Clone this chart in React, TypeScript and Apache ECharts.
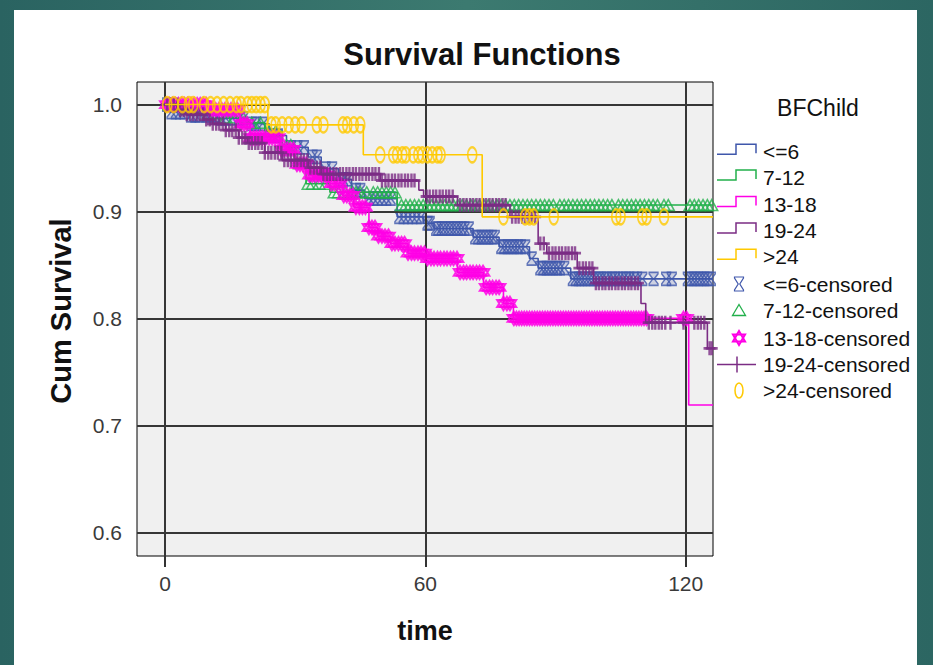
import React, { useEffect, useRef } from "react";
import * as echarts from "echarts";

// ---------- data ----------
const groupNames = ["<=6", "7-12", "13-18", "19-24", ">24"];
const groupColors = ["#3f57ab", "#22b04b", "#ff00e6", "#7b2c84", "#ffc900"];

const xTicks = [0, 60, 120];
const yTicks = [0.6, 0.7, 0.8, 0.9, 1.0];
const X_MIN = -6.46;
const X_MAX = 126.3;
const Y_MIN = 0.5778;
const Y_MAX = 1.0211;
const END_T = 126.3;

// <=6
const blueTimes = [0, 1, 5, 12, 19, 24, 28, 33, 36, 40, 43, 46, 53.5, 59.5, 62, 71, 77, 84, 86, 93.5];
const blueSurv = [1.0, 0.993, 0.99, 0.987, 0.982, 0.971, 0.96, 0.951, 0.94, 0.93, 0.92, 0.912, 0.895, 0.889, 0.884, 0.876, 0.867, 0.856, 0.847, 0.837];
const blueCensor = [0.5, 1.5, 2.5, 3.5, 4.5, 6, 7, 8, 9.5, 10.5, 11.5, 13, 14, 15.5, 17, 18, 20, 21, 22.5, 25, 26, 29, 30.5, 32, 34, 35, 37, 38.5, 41, 42, 44, 45, 47, 48, 49, 50, 51, 52, 54, 55, 56, 57, 58, 59, 60.5, 61, 62.5, 63, 63.8, 64.5, 65.3, 66, 66.8, 67.5, 68.3, 69, 70, 71.5, 72.2, 73, 73.8, 74.5, 75.3, 76, 77.5, 78.2, 79, 79.8, 80.5, 81.3, 82, 83, 84.5, 86.5, 87.2, 88, 88.7, 89.5, 90.3, 91, 92, 94, 94.7, 95.4, 96, 96.8, 97.5, 98.2, 99, 99.8, 100.5, 101.3, 102, 103, 103.7, 104.5, 105.5, 106.3, 107, 108, 108.8, 110, 112.6, 115.5, 116.8, 120.5, 121.3, 122, 122.8, 123.5, 124.3, 125, 125.8];

// 7-12
const greenTimes = [0, 4, 9, 14, 19, 23, 27, 30, 32.5, 38, 53.5];
const greenSurv = [1.0, 0.996, 0.992, 0.988, 0.983, 0.975, 0.962, 0.945, 0.926, 0.918, 0.906];
const greenCensor = [1, 2, 3.5, 5, 6.5, 8, 10, 12, 14, 16, 18, 20, 22, 24, 25.5, 28, 29, 31, 33, 34, 35.5, 37, 39, 40, 41.5, 43, 44, 45, 46.5, 48, 49, 50, 51, 52, 53, 54.5, 55.5, 56.5, 57.5, 58.5, 59.5, 60.5, 61.5, 62.5, 63.5, 64.5, 65.5, 66.5, 67.5, 68.5, 69.5, 70.5, 71.5, 72.5, 73.5, 74.5, 75.5, 76.5, 77.5, 78.5, 79.5, 80.5, 81.5, 82.5, 83.5, 84.5, 85.5, 86.5, 87.5, 88.5, 89.5, 91, 92, 93, 94, 95, 96, 97, 98, 99, 100, 101, 102, 103, 104.5, 105.5, 106.5, 107.5, 108.5, 109.5, 110.5, 111.5, 112.5, 113.5, 115, 116, 121, 122, 123, 124, 125, 126];

// 13-18
const magTimes = [0, 10, 17.3, 19.6, 26.5, 30, 33, 38, 41, 43.5, 47, 49, 52, 56, 60, 67.4, 73.4, 78, 80.3, 120.7];
const magSurv = [1.0, 0.995, 0.982, 0.969, 0.958, 0.944, 0.934, 0.926, 0.915, 0.904, 0.885, 0.877, 0.87, 0.861, 0.856, 0.843, 0.829, 0.814, 0.8, 0.719];
const magCensor = [0.3, 1, 1.7, 2.4, 3.1, 3.8, 4.5, 5.2, 6, 6.7, 7.4, 8.1, 8.8, 9.5, 10.3, 11, 11.7, 12.4, 13.1, 13.8, 14.5, 15.2, 16, 16.7, 17.5, 18.2, 18.9, 19.7, 20.4, 21.1, 21.8, 22.5, 23.2, 24, 24.7, 25.4, 26.1, 26.8, 27.5, 28.2, 28.9, 29.6, 30.4, 31.1, 31.8, 32.5, 33.3, 34, 34.7, 35.4, 36.1, 36.8, 37.5, 38.3, 39, 39.7, 40.4, 41.2, 41.9, 42.6, 43.3, 44, 44.8, 45.5, 46.2, 47, 47.7, 48.4, 49.2, 50, 50.7, 51.5, 52.3, 53, 53.8, 54.5, 55.2, 56, 56.8, 57.5, 58.3, 59, 59.8, 60.5, 61.3, 62, 62.8, 63.5, 64.3, 65, 65.8, 66.5, 67.3, 68, 68.8, 69.5, 70.3, 71, 71.8, 72.5, 73.3, 74, 74.8, 75.5, 76.3, 77, 78, 78.8, 79.5, 80.4, 81, 81.6, 82.2, 82.8, 83.4, 84, 84.6, 85.2, 85.8, 86.4, 87, 87.6, 88.2, 88.8, 89.4, 90, 90.6, 91.2, 91.8, 92.4, 93, 93.6, 94.2, 94.8, 95.4, 96, 96.6, 97.2, 97.8, 98.4, 99, 99.6, 100.2, 100.8, 101.4, 102, 102.6, 103.2, 103.8, 104.4, 105, 105.6, 106.2, 106.8, 107.4, 108, 108.6, 109.2, 109.8, 110.4, 111, 119.5, 120.2];

// 19-24
const purTimes = [0, 3, 5, 9, 11, 14, 17, 19, 23, 27, 33, 36, 49.6, 58.5, 59.6, 67.4, 79.5, 86, 88, 95, 98.8, 109.7, 110.8, 125];
const purSurv = [1.0, 0.995, 0.991, 0.986, 0.982, 0.976, 0.969, 0.964, 0.955, 0.948, 0.941, 0.935, 0.929, 0.92, 0.914, 0.906, 0.895, 0.87, 0.861, 0.847, 0.833, 0.814, 0.796, 0.772];
const purCensor = [0.5, 1.2, 2, 2.8, 3.5, 4.3, 5, 5.8, 6.5, 7.3, 8, 8.8, 9.5, 10.3, 11, 11.8, 12.5, 13.3, 14, 14.8, 15.5, 16.3, 17, 17.8, 18.5, 19.3, 20, 20.8, 21.5, 22.3, 23, 23.8, 24.5, 25.3, 26, 26.8, 27.5, 28.3, 29, 29.8, 30.5, 31.3, 32, 32.8, 33.5, 34.3, 35, 35.8, 36.5, 37.3, 38, 38.8, 39.5, 40.3, 41, 41.8, 42.5, 43.3, 44, 44.8, 45.5, 46.3, 47, 47.8, 48.5, 49.3, 50, 50.8, 51.5, 52.3, 53, 53.8, 54.5, 55.3, 56, 56.8, 57.5, 60.3, 61, 61.8, 62.5, 63.3, 64, 64.8, 65.5, 66.3, 68, 68.8, 69.5, 70.3, 71, 71.8, 72.5, 73.3, 74, 74.8, 75.5, 76.3, 77, 77.8, 78.5, 80, 80.8, 81.5, 82.3, 83, 83.8, 84.5, 85.3, 86.5, 87.3, 88.5, 89.3, 90, 90.8, 91.5, 92.3, 93, 93.8, 94.5, 95.5, 96.3, 97, 97.8, 98.5, 99.3, 100, 100.8, 101.5, 102.3, 103, 103.8, 104.5, 105.3, 106, 106.8, 107.5, 108.3, 109, 111.5, 112.3, 113, 113.8, 114.5, 115.3, 116.5, 119.5, 122, 122.8, 123.5, 124.3, 125.5, 126];

// >24
const yelTimes = [0, 23.7, 45.7, 73.1];
const yelSurv = [1.0, 0.981, 0.953, 0.895];
const yelCensor = [0.5, 2, 4, 5.5, 6.5, 9, 10.5, 12, 13.5, 15, 16.5, 17.5, 19, 20, 21, 22, 23, 24.5, 25.5, 27, 28.5, 30, 31.5, 35, 36.5, 41, 42, 43.5, 45, 49.6, 52.6, 53.5, 54.7, 55.5, 57.2, 58.4, 59.3, 60.5, 61.6, 62.8, 63.5, 70.8, 78, 83, 84, 85, 89.6, 104, 105, 110, 111, 115];

// ---------- helpers ----------
function survAt(times: number[], surv: number[], t: number) {
  let v = surv[0];
  for (let i = 0; i < times.length; i++) if (times[i] <= t) v = surv[i];
  return v;
}
function stepData(times: number[], surv: number[]) {
  const d = times.map((t, i) => [t, surv[i]]);
  d.push([END_T, surv[surv.length - 1]]);
  return d;
}

const groups = [
  { times: blueTimes, surv: blueSurv, cens: blueCensor },
  { times: greenTimes, surv: greenSurv, cens: greenCensor },
  { times: magTimes, surv: magSurv, cens: magCensor },
  { times: purTimes, surv: purSurv, cens: purCensor },
  { times: yelTimes, surv: yelSurv, cens: yelCensor },
];

const T = "rgba(0,0,0,0)";
const censorSymbols: any[] = [
  { symbol: "path://M0,0L10,0L10,1.5L5.8,7L10,12.5L10,14L0,14L0,12.5L4.2,7L0,1.5Z", symbolSize: [9, 13], itemStyle: { color: "rgba(63,87,171,0.25)", borderColor: groupColors[0], borderWidth: 1.5 } },
  { symbol: "triangle", symbolSize: [12, 11], itemStyle: { color: T, borderColor: groupColors[1], borderWidth: 1.5 } },
  { symbol: "path://M5,0L9.33,7.5L0.67,7.5ZM5,10L9.33,2.5L0.67,2.5Z", symbolSize: [13, 14], itemStyle: { color: "rgba(255,0,230,0.6)", borderColor: groupColors[2], borderWidth: 1.8 } },
  { symbol: "path://M4,0L6,0L6,4L10,4L10,6L6,6L6,10L4,10L4,6L0,6L0,4L4,4Z", symbolSize: [12, 14], itemStyle: { color: groupColors[3] } },
  { symbol: "circle", symbolSize: [9, 15], itemStyle: { color: T, borderColor: groupColors[4], borderWidth: 2 } },
];

const FONT = "'Liberation Sans', Arial, Helvetica, sans-serif";

function buildSeries() {
  const series: any[] = [
    {
      type: "line",
      data: [[0, 1]],
      showSymbol: false,
      lineStyle: { opacity: 0 },
      silent: true,
      z: 1,
      markLine: {
        silent: true,
        symbol: "none",
        label: { show: false },
        lineStyle: { color: "#363636", width: 2, type: "solid" },
        data: [
          ...xTicks.map((v) => ({ xAxis: v })),
          ...yTicks.map((v) => ({ yAxis: v })),
        ],
      },
    },
  ];
  groups.forEach((g, i) => {
    series.push({
      name: groupNames[i],
      type: "line",
      step: "end",
      data: stepData(g.times, g.surv),
      showSymbol: false,
      lineStyle: { color: groupColors[i], width: 1.6 },
      z: 3 + i * 2,
      silent: true,
    });
    series.push({
      name: groupNames[i] + "-censored",
      type: "scatter",
      data: g.cens.map((t) => [t, survAt(g.times, g.surv, t)]),
      ...censorSymbols[i],
      z: 4 + i * 2,
      silent: true,
    });
  });
  return series;
}

function legendGraphics() {
  const els: any[] = [];
  els.push({
    type: "text", x: 818, y: 108,
    style: { text: "BFChild", fontSize: 23, fontFamily: FONT, fill: "#111", align: "center", verticalAlign: "middle" },
  });
  const rowY = [151.7, 177.5, 204, 230.5, 256.7, 284, 310.5, 338, 364.5, 390.5];
  const labels = [...groupNames, ...groupNames.map((n) => n + "-censored")];
  labels.forEach((lab, i) => {
    els.push({
      type: "text", x: 763, y: rowY[i],
      style: { text: lab, fontSize: 21, fontFamily: FONT, fill: "#111", align: "left", verticalAlign: "middle" },
    });
  });
  for (let i = 0; i < 5; i++) {
    const y = rowY[i];
    els.push({
      type: "polyline",
      shape: { points: [[717, y + 2.5], [736, y + 2.5], [736, y - 7.5], [756, y - 7.5], [756, y + 1.5]] },
      style: { stroke: groupColors[i], lineWidth: 1.5, fill: "none" },
    });
  }
  const cx = 739;
  let y = rowY[5];
  els.push({
    type: "polygon", x: cx, y,
    shape: { points: [[-4.5, -7], [4.5, -7], [4.5, -6], [0.8, 0], [4.5, 6], [4.5, 7], [-4.5, 7], [-4.5, 6], [-0.8, 0], [-4.5, -6]] },
    style: { stroke: groupColors[0], fill: "none", lineWidth: 1.2 },
  });
  y = rowY[6];
  els.push({
    type: "polygon", x: cx, y,
    shape: { points: [[0, -6], [6.5, 5], [-6.5, 5]] },
    style: { stroke: groupColors[1], fill: "none", lineWidth: 1.3 },
  });
  y = rowY[7];
  const r = 7;
  els.push({
    type: "polygon", x: cx, y,
    shape: { points: [[0, -r], [r * 0.866, r / 2], [-r * 0.866, r / 2]] },
    style: { stroke: groupColors[2], fill: "none", lineWidth: 2 },
  });
  els.push({
    type: "polygon", x: cx, y,
    shape: { points: [[0, r], [r * 0.866, -r / 2], [-r * 0.866, -r / 2]] },
    style: { stroke: groupColors[2], fill: "none", lineWidth: 2 },
  });
  y = rowY[8];
  els.push({ type: "line", shape: { x1: 717, y1: y, x2: 756, y2: y }, style: { stroke: groupColors[3], lineWidth: 1.5 } });
  els.push({ type: "line", shape: { x1: 737, y1: y - 8, x2: 737, y2: y + 8 }, style: { stroke: groupColors[3], lineWidth: 1.5 } });
  y = rowY[9];
  els.push({ type: "ellipse", shape: { cx, cy: y, rx: 4, ry: 7.5 }, style: { stroke: groupColors[4], fill: "none", lineWidth: 1.5 } });
  return els;
}

function buildOption(): any {
  return {
    animation: false,
    backgroundColor: "transparent",
    grid: {
      left: 137, top: 82, right: 933 - 713, bottom: 665 - 556,
      show: true, backgroundColor: "#f0f0f0", borderColor: "#000", borderWidth: 1,
    },
    xAxis: {
      type: "value", min: X_MIN, max: X_MAX,
      axisLine: { show: false },
      splitLine: { show: false },
      axisTick: { show: true, inside: false, length: 11, lineStyle: { color: "#333", width: 2 }, customValues: xTicks },
      axisLabel: { customValues: xTicks, fontSize: 21, fontFamily: FONT, color: "#3a3a3a", margin: 17, formatter: (v: number) => String(v) },
    },
    yAxis: {
      type: "value", min: Y_MIN, max: Y_MAX,
      axisLine: { show: false },
      splitLine: { show: false },
      axisTick: { show: true, inside: false, length: 14, lineStyle: { color: "#333", width: 2 }, customValues: yTicks },
      axisLabel: { customValues: yTicks, fontSize: 21, fontFamily: FONT, color: "#3a3a3a", margin: 15, formatter: (v: number) => v.toFixed(1) },
    },
    graphic: [
      {
        type: "text", x: 482, y: 54,
        style: { text: "Survival Functions", fontSize: 31, fontWeight: "bold", fontFamily: FONT, fill: "#111", align: "center", verticalAlign: "middle" },
      },
      {
        type: "text", x: 425, y: 631,
        style: { text: "time", fontSize: 27, fontWeight: "bold", fontFamily: FONT, fill: "#111", align: "center", verticalAlign: "middle" },
      },
      {
        type: "text", x: 61, y: 311, rotation: Math.PI / 2,
        style: { text: "Cum Survival", fontSize: 29, fontWeight: "bold", fontFamily: FONT, fill: "#111", align: "center", verticalAlign: "middle" },
      },
      ...legendGraphics(),
    ],
    series: buildSeries(),
  };
}

export default function App() {
  const ref = useRef<HTMLDivElement>(null);
  useEffect(() => {
    const chart = echarts.init(ref.current!, null, { renderer: "svg" });
    chart.setOption(buildOption());
    return () => chart.dispose();
  }, []);
  return (
    <div
      style={{
        position: "fixed", left: 0, top: 0, width: 933, height: 665, overflow: "hidden",
        background: "linear-gradient(90deg, #2a6361 0%, #3c7a70 50%, #2c6662 100%)",
      }}
    >
      <div style={{ position: "absolute", left: 14, top: 10, width: 903, height: 655, background: "#ffffff" }} />
      <div ref={ref} style={{ position: "absolute", left: 0, top: 0, width: 933, height: 665 }} />
    </div>
  );
}
